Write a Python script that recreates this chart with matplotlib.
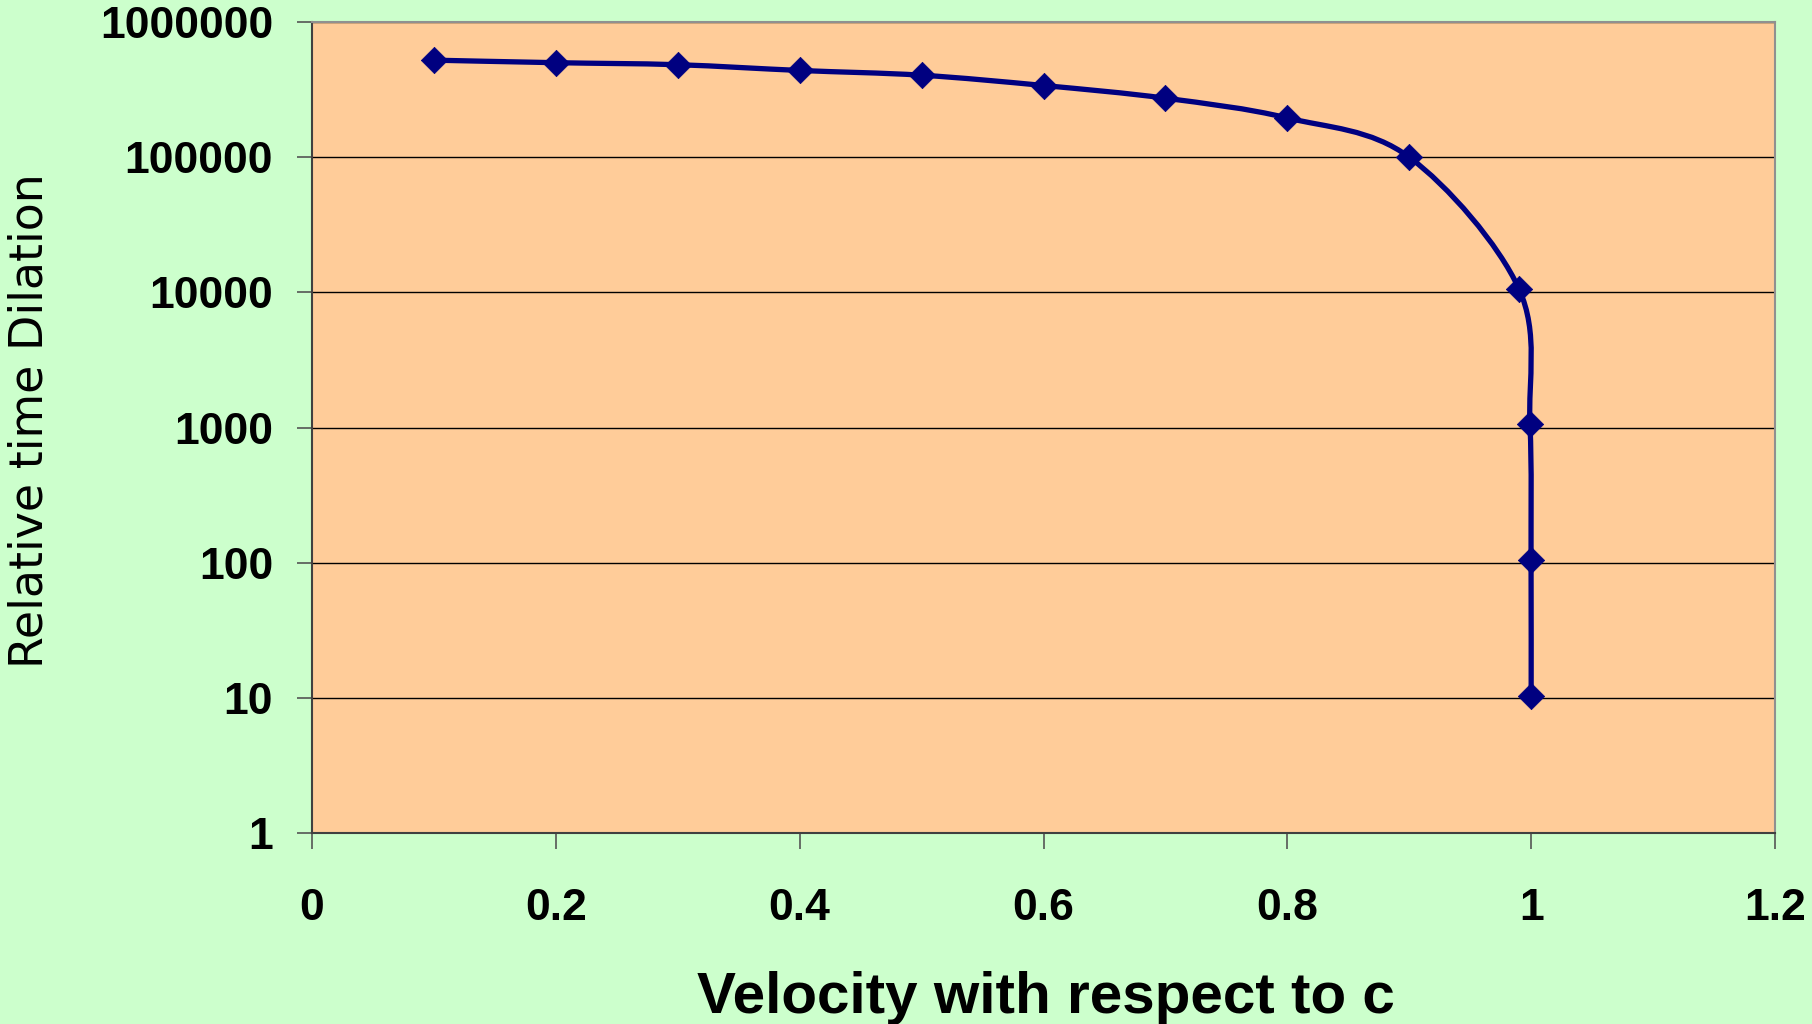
import numpy as np
import matplotlib
matplotlib.use("Agg")
import matplotlib.pyplot as plt
from matplotlib.path import Path
from matplotlib.patches import PathPatch

TICK_SIZE = 32
XLABEL_SIZE = 42
YLABEL_SIZE = 33
NAVY = '#000080'

velocity = [0.1, 0.2, 0.3, 0.4, 0.5, 0.6, 0.7, 0.8, 0.9, 0.99, 0.999, 0.9999, 0.99999]
dilation = [522000, 500000, 483000, 438000, 404000, 339000, 273000, 195000,
            100000, 10600, 1060, 105, 10.3]

xticks = [0, 0.2, 0.4, 0.6, 0.8, 1, 1.2]
xticklabels = ["0", "0.2", "0.4", "0.6", "0.8", "1", "1.2"]
yticks = [1, 10, 100, 1000, 10000, 100000, 1000000]
yticklabels = ["1", "10", "100", "1000", "10000", "100000", "1000000"]


def smooth_path(xs, ys):
    """excel style smoothed line: catmull-rom bezier built in (x, log y) space"""
    px = np.array(xs, dtype=float)
    py = np.log10(np.array(ys, dtype=float))
    n = len(px)
    verts = [(px[0], py[0])]
    codes = [Path.MOVETO]
    for i in range(n - 1):
        i0 = max(i - 1, 0)
        i3 = min(i + 2, n - 1)
        c1 = (px[i] + (px[i + 1] - px[i0]) / 6, py[i] + (py[i + 1] - py[i0]) / 6)
        c2 = (px[i + 1] - (px[i3] - px[i]) / 6, py[i + 1] - (py[i3] - py[i]) / 6)
        verts += [c1, c2, (px[i + 1], py[i + 1])]
        codes += [Path.CURVE4] * 3
    verts = [(a, 10 ** b) for a, b in verts]
    return Path(verts, codes)


plt.rcParams['font.family'] = ['Liberation Sans', 'DejaVu Sans']

fig = plt.figure(figsize=(18.12, 10.24), dpi=100, facecolor='#CCFFCC')
ax = fig.add_axes([312 / 1812, 1 - 833 / 1024, (1775 - 312) / 1812, (833 - 22) / 1024])
ax.set_facecolor('#FFCC99')

ax.set_yscale('log')
ax.set_xlim(0, 1.2)
ax.set_ylim(1, 1000000)

ax.add_patch(PathPatch(smooth_path(velocity, dilation), transform=ax.transData,
                       fill=False, edgecolor=NAVY, lw=3.8, zorder=3, capstyle='round',
                       joinstyle='round'))
diamond = [(-1, 0), (0, 1), (1, 0), (0, -1), (-1, 0)]
ax.plot(velocity, dilation, linestyle='none', marker=diamond, ms=19, mew=0.5,
        color=NAVY, zorder=4, clip_on=False)

ax.set_yticks(yticks)
ax.set_yticklabels(yticklabels)
ax.yaxis.set_minor_locator(matplotlib.ticker.NullLocator())
ax.set_xticks(xticks)
ax.set_xticklabels(xticklabels)
ax.tick_params(axis='y', length=11, width=1.2, pad=17, labelsize=TICK_SIZE, color='#555555')
ax.tick_params(axis='x', length=11.5, width=1.2, pad=28, labelsize=TICK_SIZE, color='#555555')
for lab in ax.get_xticklabels() + ax.get_yticklabels():
    lab.set_fontweight('bold')

ax.grid(axis='y', color='black', lw=1)
ax.set_axisbelow(True)
ax.spines['left'].set_color('#404040')
ax.spines['bottom'].set_color('#404040')
ax.spines['top'].set_color('#909090')
ax.spines['right'].set_color('#909090')
for s in ax.spines.values():
    s.set_linewidth(1.5)

fig.text(1046 / 1812, 1 - 1013 / 1024, "Velocity with respect to c", fontsize=XLABEL_SIZE,
         fontweight='bold', ha='center', va='baseline')
fig.text(0.0165, 1 - 421 / 1024, "Relative time Dilation", fontsize=YLABEL_SIZE,
         family='DejaVu Sans', rotation=90, ha='center', va='center')

plt.savefig('out.png', dpi=100, facecolor=fig.get_facecolor())
